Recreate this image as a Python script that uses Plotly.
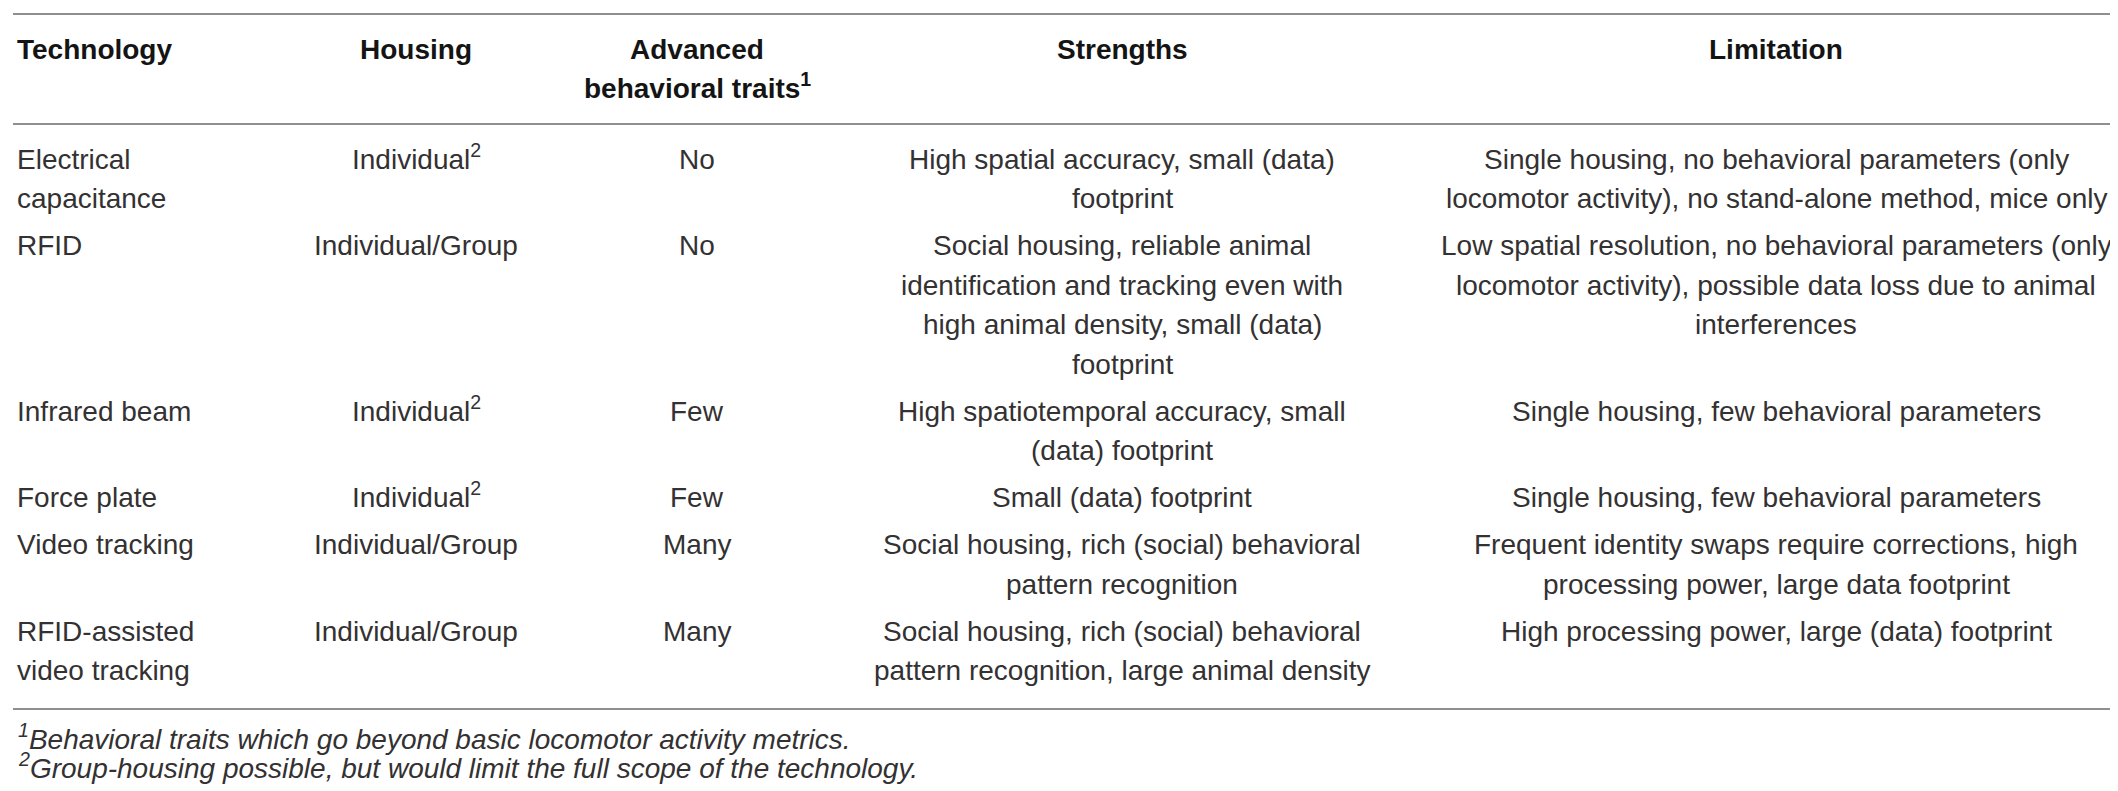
import plotly.graph_objects as go

# ---------------- data ----------------
headers = ["Technology", "Housing", "Advanced|behavioral traits<sup>1</sup>", "Strengths", "Limitation"]

technology = [
    ["Electrical", "capacitance"],
    ["RFID"],
    ["Infrared beam"],
    ["Force plate"],
    ["Video tracking"],
    ["RFID-assisted", "video tracking"],
]
housing = [
    ["Individual<sup>2</sup>"],
    ["Individual/Group"],
    ["Individual<sup>2</sup>"],
    ["Individual<sup>2</sup>"],
    ["Individual/Group"],
    ["Individual/Group"],
]
advanced = [["No"], ["No"], ["Few"], ["Few"], ["Many"], ["Many"]]
strengths = [
    ["High spatial accuracy, small (data)", "footprint"],
    ["Social housing, reliable animal", "identification and tracking even with",
     "high animal density, small (data)", "footprint"],
    ["High spatiotemporal accuracy, small", "(data) footprint"],
    ["Small (data) footprint"],
    ["Social housing, rich (social) behavioral", "pattern recognition"],
    ["Social housing, rich (social) behavioral", "pattern recognition, large animal density"],
]
limitations = [
    ["Single housing, no behavioral parameters (only",
     "locomotor activity), no stand-alone method, mice only"],
    ["Low spatial resolution, no behavioral parameters (only",
     "locomotor activity), possible data loss due to animal", "interferences"],
    ["Single housing, few behavioral parameters"],
    ["Single housing, few behavioral parameters"],
    ["Frequent identity swaps require corrections, high",
     "processing power, large data footprint"],
    ["High processing power, large (data) footprint"],
]
footnotes = [
    "<sup>1</sup>Behavioral traits which go beyond basic locomotor activity metrics.",
    "<sup>2</sup>Group-housing possible, but would limit the full scope of the technology.",
]

# ---------------- layout constants ----------------
W, H = 2118, 791
FONT = "Liberation Sans, Arial, Helvetica, sans-serif"
FS = 28
FOOT_FS = 28
TEXT_COLOR = "#333132"
HEAD_COLOR = "#141414"
RULE_COLOR = "#8f8f8f"
col_x = [7, 408, 689, 1114, 1768]
col_anchor = ["left", "center", "center", "center", "center"]
LINE = 39.5          # baseline-to-baseline inside a cell
GAP = 47             # last baseline of a row -> first baseline of next row
rule_top, rule_head, rule_bottom = 6, 116, 701
head_base = 52
body_base = 162
foot_x = 8
foot_base = [742, 771]

fig = go.Figure()
fig.update_layout(
    width=W, height=H, margin=dict(l=0, r=0, t=0, b=0),
    paper_bgcolor="white", plot_bgcolor="white", showlegend=False,
    xaxis=dict(range=[0, W], visible=False, fixedrange=True),
    yaxis=dict(range=[0, H], visible=False, fixedrange=True),
)


def add_line(x, baseline, text, anchor, bold=False, italic=False, size=FS, color=TEXT_COLOR):
    t = text
    if bold:
        t = "<b>" + t + "</b>"
    if italic:
        t = "<i>" + t + "</i>"
    fig.add_annotation(
        x=x, y=H - (baseline + 0.212 * size + 1), xref="x", yref="y",
        text=t, showarrow=False, xanchor=anchor, yanchor="bottom",
        font=dict(family=FONT, size=size, color=color), borderpad=1,
    )


# horizontal rules
for ry in (rule_top, rule_head, rule_bottom):
    fig.add_shape(type="line", x0=5, x1=2112, y0=H - ry, y1=H - ry, xref="x", yref="y",
                  line=dict(color=RULE_COLOR, width=2))

# header
for ci, h in enumerate(headers):
    for li, part in enumerate(h.split("|")):
        add_line(col_x[ci], head_base + li * LINE, part, col_anchor[ci], bold=True, color=HEAD_COLOR)

# body rows
columns = [technology, housing, advanced, strengths, limitations]
base = body_base
for ri in range(len(technology)):
    nlines = max(len(col[ri]) for col in columns)
    for ci, col in enumerate(columns):
        for li, part in enumerate(col[ri]):
            add_line(col_x[ci], base + li * LINE, part, col_anchor[ci])
    base += (nlines - 1) * LINE + GAP

# footnotes
for fi, ft in enumerate(footnotes):
    add_line(foot_x, foot_base[fi], ft, "left", italic=True, size=FOOT_FS)

fig.write_html("out.html")
